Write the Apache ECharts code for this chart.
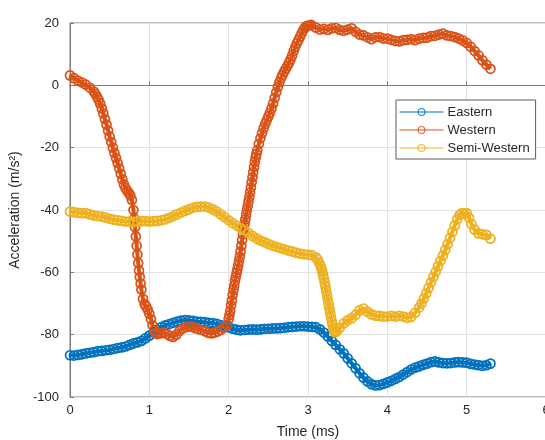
<!DOCTYPE html>
<html>
<head>
<meta charset="utf-8">
<script src="https://cdn.jsdelivr.net/npm/echarts@6/dist/echarts.min.js"></script>
<style>
  html, body { margin: 0; padding: 0; background: #ffffff; }
  #chart { width: 545px; height: 440px; }
</style>
</head>
<body>
<div id="chart"></div>
<script>
// Acceleration traces over time, one [time (ms), acceleration (m/s^2)] pair per sample.
const seriesNames = ['Eastern', 'Western', 'Semi-Western'];
const xTicks = [0, 1, 2, 3, 4, 5, 6];
const yTicks = [-100, -80, -60, -40, -20, 0, 20];

const eastern = [
  [0, -86.6], [0.05, -86.7], [0.1, -86.5], [0.15, -86.3], [0.2, -86.0], [0.25, -85.8],
  [0.3, -85.6], [0.35, -85.3], [0.4, -85.2], [0.45, -85.0], [0.5, -84.9], [0.55, -84.6],
  [0.6, -84.3], [0.65, -84.1], [0.7, -83.8], [0.75, -83.3], [0.8, -82.8], [0.85, -82.5],
  [0.9, -82.0], [0.95, -81.2], [1.0, -80.3], [1.05, -79.3], [1.1, -78.4], [1.15, -77.6],
  [1.2, -77.0], [1.25, -76.6], [1.3, -76.2], [1.35, -75.8], [1.4, -75.5], [1.45, -75.3],
  [1.5, -75.4], [1.55, -75.6], [1.6, -75.8], [1.65, -75.9], [1.7, -76.0], [1.75, -76.2],
  [1.8, -76.3], [1.85, -76.5], [1.9, -76.9], [1.95, -77.3], [2.0, -77.7], [2.05, -78.1],
  [2.1, -78.4], [2.15, -78.6], [2.2, -78.5], [2.25, -78.4], [2.3, -78.3], [2.35, -78.4],
  [2.4, -78.3], [2.45, -78.1], [2.5, -78.1], [2.55, -78.0], [2.6, -78.0], [2.65, -77.9],
  [2.7, -77.8], [2.75, -77.6], [2.8, -77.5], [2.85, -77.4], [2.9, -77.3], [2.95, -77.3],
  [3.0, -77.4], [3.05, -77.5], [3.1, -77.6], [3.15, -78.3], [3.2, -79.3], [3.25, -80.6],
  [3.3, -82.0], [3.35, -83.3], [3.4, -84.7], [3.45, -86.0], [3.5, -87.6], [3.55, -89.2],
  [3.6, -90.8], [3.65, -92.4], [3.7, -93.8], [3.75, -95.0], [3.8, -95.9], [3.85, -96.3],
  [3.9, -96.2], [3.95, -95.8], [4.0, -95.3], [4.05, -94.8], [4.1, -94.2], [4.15, -93.6],
  [4.2, -92.8], [4.25, -92.0], [4.3, -91.2], [4.35, -90.6], [4.4, -90.2], [4.45, -89.7],
  [4.5, -89.3], [4.55, -88.8], [4.6, -88.6], [4.65, -88.9], [4.7, -89.1], [4.75, -89.2],
  [4.8, -89.1], [4.85, -88.9], [4.9, -88.8], [4.95, -88.9], [5.0, -89.0], [5.05, -89.4],
  [5.1, -89.6], [5.15, -89.8], [5.2, -90.0], [5.25, -89.8], [5.3, -89.3]
];

const western = [
  [0, 3.2], [0.05, 2.3], [0.1, 1.5], [0.15, 0.9], [0.2, 0.2], [0.25, -0.8], [0.3, -2.0],
  [0.32, -2.8], [0.34, -3.6], [0.36, -4.6], [0.38, -5.8], [0.40, -7.4], [0.42, -9.0],
  [0.44, -10.8], [0.46, -12.6], [0.48, -14.5], [0.50, -16.4], [0.52, -18.2], [0.54, -20.0],
  [0.56, -21.7], [0.58, -23.3], [0.60, -24.9], [0.62, -26.6], [0.64, -28.4], [0.66, -30.2],
  [0.68, -31.8], [0.70, -33.0], [0.72, -33.8], [0.74, -34.5], [0.76, -35.3], [0.78, -36.8],
  [0.80, -40.0], [0.81, -42.7], [0.82, -45.5], [0.83, -48.5], [0.84, -51.5], [0.85, -54.3],
  [0.86, -57.0], [0.87, -59.4], [0.88, -61.5], [0.89, -63.6], [0.90, -65.5], [0.92, -68.5],
  [0.94, -70.2], [0.96, -71.0], [0.98, -72.0], [1.00, -73.3], [1.02, -75.0], [1.04, -77.0],
  [1.06, -78.6], [1.08, -79.5], [1.10, -79.8], [1.14, -79.6], [1.18, -79.3], [1.22, -79.8],
  [1.26, -80.4], [1.30, -80.7], [1.34, -80.0], [1.38, -78.8], [1.42, -78.0], [1.46, -77.6],
  [1.50, -77.4], [1.54, -77.5], [1.58, -77.9], [1.62, -78.2], [1.66, -78.5], [1.70, -78.9],
  [1.74, -79.4], [1.78, -79.6], [1.82, -79.4], [1.86, -79.0], [1.90, -78.5], [1.94, -77.8],
  [1.98, -76.8], [2.00, -75.0], [2.01, -73.7], [2.02, -72.3], [2.03, -70.6], [2.04, -69.0],
  [2.05, -67.3], [2.06, -65.7], [2.07, -64.2], [2.08, -62.8], [2.09, -61.5], [2.10, -60.2],
  [2.11, -59.0], [2.12, -57.7], [2.13, -56.4], [2.14, -55.0], [2.15, -53.3], [2.16, -51.5],
  [2.17, -49.6], [2.18, -47.8], [2.19, -46.1], [2.20, -44.5], [2.21, -43.0], [2.22, -41.5],
  [2.23, -40.1], [2.24, -38.8], [2.25, -37.3], [2.26, -35.8], [2.27, -34.3], [2.28, -32.8],
  [2.29, -31.1], [2.30, -29.5], [2.31, -27.8], [2.32, -26.2], [2.33, -24.6], [2.34, -23.2],
  [2.35, -22.0], [2.36, -20.8], [2.38, -18.8], [2.40, -17.0], [2.42, -15.4], [2.44, -13.8],
  [2.46, -12.4], [2.48, -11.2], [2.50, -10.0], [2.52, -8.8], [2.54, -7.4], [2.56, -5.8],
  [2.58, -4.0], [2.60, -2.2], [2.62, -0.5], [2.64, 1.0], [2.66, 2.3], [2.68, 3.4],
  [2.70, 4.4], [2.72, 5.3], [2.74, 6.2], [2.76, 7.2], [2.78, 8.3], [2.80, 9.6],
  [2.82, 11.0], [2.84, 12.3], [2.86, 13.5], [2.88, 14.5], [2.90, 15.6], [2.92, 16.7],
  [2.94, 17.7], [2.96, 18.5], [2.98, 19.0], [3.00, 19.1], [3.02, 19.2], [3.04, 19.4],
  [3.10, 18.5], [3.15, 17.9], [3.20, 18.1], [3.25, 17.8], [3.30, 18.3], [3.35, 18.4],
  [3.40, 17.8], [3.45, 17.5], [3.50, 17.9], [3.55, 18.3], [3.60, 17.2], [3.65, 16.3],
  [3.70, 16.0], [3.75, 15.4], [3.80, 14.8], [3.85, 15.4], [3.90, 15.5], [3.95, 15.0],
  [4.00, 15.0], [4.05, 14.6], [4.10, 14.2], [4.15, 14.1], [4.20, 14.5], [4.25, 14.6],
  [4.30, 14.8], [4.35, 14.5], [4.40, 15.0], [4.45, 15.2], [4.50, 15.3], [4.55, 15.8],
  [4.60, 15.9], [4.65, 16.3], [4.70, 16.6], [4.75, 16.0], [4.80, 15.8], [4.85, 15.5],
  [4.90, 15.0], [4.95, 14.4], [5.00, 13.6], [5.05, 12.4], [5.10, 11.0], [5.15, 9.6],
  [5.20, 8.0], [5.25, 6.6], [5.30, 5.3]
];

const semiWestern = [
  [0, -40.5], [0.05, -40.7], [0.1, -40.9], [0.15, -41.0], [0.2, -41.0], [0.25, -41.4],
  [0.3, -41.7], [0.35, -42.0], [0.4, -42.1], [0.45, -42.4], [0.5, -42.8], [0.55, -43.1],
  [0.6, -43.3], [0.65, -43.5], [0.7, -43.7], [0.75, -43.7], [0.8, -43.8], [0.85, -43.7],
  [0.9, -43.6], [0.95, -43.6], [1.0, -43.7], [1.05, -43.6], [1.1, -43.5], [1.15, -43.3],
  [1.2, -43.0], [1.25, -42.5], [1.3, -42.0], [1.35, -41.4], [1.4, -40.8], [1.45, -40.3],
  [1.5, -39.8], [1.55, -39.3], [1.6, -39.0], [1.65, -38.9], [1.7, -38.9], [1.75, -39.2],
  [1.8, -39.8], [1.85, -40.5], [1.9, -41.4], [1.95, -42.3], [2.0, -43.3], [2.05, -44.2],
  [2.1, -45.0], [2.15, -45.8], [2.2, -46.5], [2.25, -47.4], [2.3, -48.3], [2.35, -49.1],
  [2.4, -49.8], [2.45, -50.3], [2.5, -50.9], [2.55, -51.4], [2.6, -51.8], [2.65, -52.2],
  [2.7, -52.6], [2.75, -53.0], [2.8, -53.3], [2.85, -53.7], [2.9, -54.0], [2.95, -54.2],
  [3.0, -54.3], [3.05, -54.5], [3.1, -55.2], [3.12, -55.8], [3.14, -56.9], [3.16, -58.0],
  [3.17, -58.9], [3.18, -59.8], [3.19, -60.9], [3.20, -62.0], [3.21, -63.3], [3.22, -64.6],
  [3.23, -66.0], [3.24, -67.4], [3.25, -68.8], [3.26, -70.2], [3.27, -71.6], [3.28, -73.0],
  [3.29, -74.4], [3.30, -75.8], [3.31, -77.0], [3.32, -78.0], [3.33, -78.7], [3.34, -79.2],
  [3.36, -79.0], [3.40, -77.8], [3.45, -76.4], [3.50, -75.4], [3.55, -74.7], [3.60, -73.6],
  [3.65, -72.2], [3.70, -71.6], [3.75, -72.6], [3.80, -73.5], [3.85, -73.9], [3.90, -74.0],
  [3.95, -74.2], [4.0, -74.2], [4.05, -74.0], [4.1, -74.2], [4.15, -74.0], [4.2, -74.2],
  [4.25, -74.6], [4.3, -74.3], [4.35, -73.0], [4.4, -71.3], [4.43, -70.0], [4.46, -68.4],
  [4.49, -66.8], [4.52, -65.0], [4.55, -63.2], [4.58, -61.5], [4.61, -59.8], [4.64, -58.0],
  [4.67, -56.3], [4.70, -54.6], [4.73, -52.8], [4.76, -51.0], [4.79, -49.0], [4.82, -47.0],
  [4.85, -45.0], [4.88, -43.0], [4.91, -41.6], [4.94, -41.0], [4.97, -41.2], [5.00, -41.0],
  [5.03, -42.5], [5.06, -44.5], [5.10, -46.3], [5.15, -47.5], [5.20, -47.8], [5.25, -48.0],
  [5.30, -49.2]
];

const colors = ['#0072BD', '#D95319', '#EDB120'];
const FONT = '"Liberation Sans", Arial, Helvetica, sans-serif';

function markerSeries(name, data, color) {
  return {
    name: name,
    type: 'line',
    data: data,
    symbol: 'circle',
    symbolSize: 9,
    showAllSymbol: true,
    itemStyle: { color: 'rgba(255,255,255,0)', borderColor: color, borderWidth: 1.7 },
    lineStyle: { color: color, width: 4 },
    emphasis: { disabled: true },
    animation: false
  };
}

const chart = echarts.init(document.getElementById('chart'), null, { renderer: 'canvas' });
chart.setOption({
  backgroundColor: '#ffffff',
  animation: false,
  textStyle: { fontFamily: FONT },
  grid: {
    left: 70, top: 23, width: 476, height: 374,
    containLabel: false, outerBoundsMode: 'none',
    show: true, borderColor: '#7a7a7a', borderWidth: 1, backgroundColor: 'transparent'
  },
  legend: {
    orient: 'vertical',
    left: 396, top: 100,
    padding: [5, 6, 4, 3],
    itemWidth: 44, itemHeight: 9, itemGap: 4,
    backgroundColor: '#ffffff',
    borderColor: '#5a5a5a', borderWidth: 1, borderRadius: 0,
    textStyle: { fontFamily: FONT, fontSize: 13, lineHeight: 14, color: '#262626', padding: [0, 0, 0, -1] },
    itemStyle: { borderWidth: 1 },
    lineStyle: { width: 1 },
    data: seriesNames
  },
  xAxis: {
    type: 'value', min: 0, max: 6, interval: 1,
    name: 'Time (ms)', nameLocation: 'middle', nameGap: 28,
    nameTextStyle: { fontFamily: FONT, fontSize: 14, color: '#262626' },
    axisLine: { show: true, lineStyle: { color: '#7a7a7a', width: 1 } },
    axisTick: { show: true, inside: true, length: 4, lineStyle: { color: '#7a7a7a' } },
    axisLabel: { fontFamily: FONT, fontSize: 13, color: '#262626', margin: 7,
      formatter: v => xTicks.includes(v) ? String(v) : '' },
    splitLine: { show: true, lineStyle: { color: '#e2e2e2', width: 1 } }
  },
  yAxis: {
    type: 'value', min: -100, max: 20, interval: 20,
    name: 'Acceleration (m/s²)', nameLocation: 'middle', nameGap: 41,
    nameTextStyle: { fontFamily: FONT, fontSize: 14, color: '#262626' },
    axisLine: { show: true, lineStyle: { color: '#7a7a7a', width: 1 } },
    axisTick: { show: true, inside: true, length: 4, lineStyle: { color: '#7a7a7a' } },
    axisLabel: { fontFamily: FONT, fontSize: 13, color: '#262626', margin: 11,
      formatter: v => yTicks.includes(v) ? String(v) : '' },
    splitLine: { show: true, lineStyle: { color: '#e2e2e2', width: 1 } }
  },
  series: [
    markerSeries(seriesNames[0], eastern, colors[0]),
    markerSeries(seriesNames[1], western, colors[1]),
    markerSeries(seriesNames[2], semiWestern, colors[2])
  ]
});
</script>
</body>
</html>
